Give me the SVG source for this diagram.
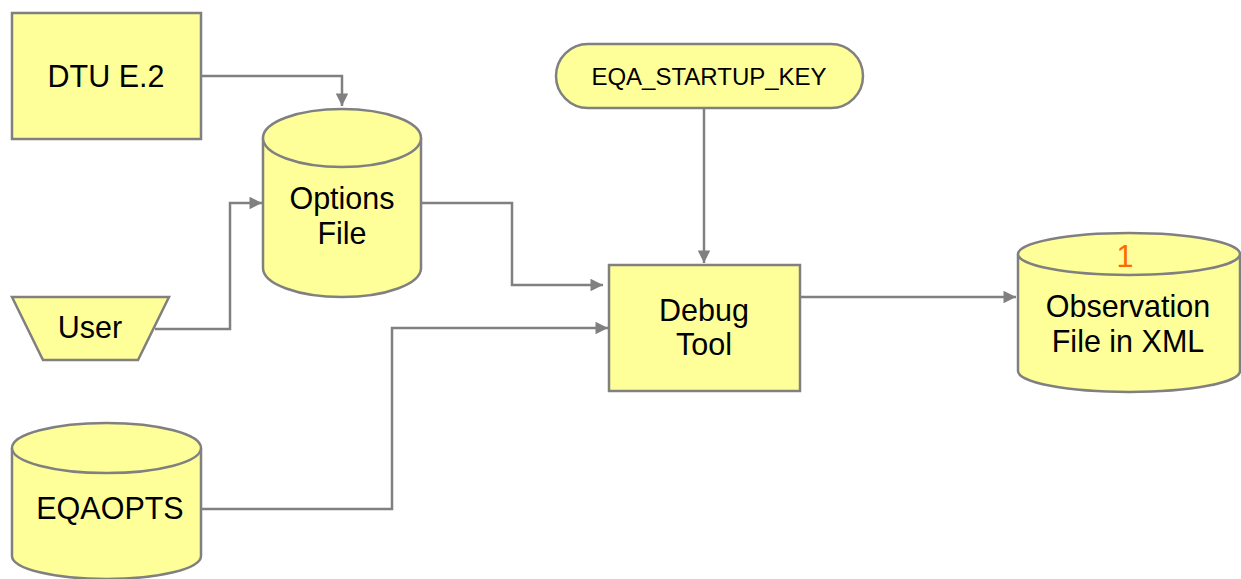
<svg xmlns="http://www.w3.org/2000/svg" width="1241" height="579" viewBox="0 0 1241 579">
<style>
.shape{fill:#ffff99;stroke:#808080;stroke-width:2.5}
.lbl{font-family:"Liberation Sans",Arial,sans-serif;font-size:30.5px;fill:#000;text-anchor:middle}
.small{font-size:24px}
.conn{fill:none;stroke:#808080;stroke-width:2.5}
</style>
<defs>
<marker id="arr" viewBox="0 0 10 10" refX="10" refY="5" markerWidth="5.5" markerHeight="5" orient="auto" markerUnits="strokeWidth">
<path d="M0,0 L10,5 L0,10 z" fill="#808080"/>
</marker>
</defs>
<rect width="1241" height="579" fill="#fff"/>
<g id="connectors">
<path class="conn" d="M201,76 H342 V106" marker-end="url(#arr)"/>
<path class="conn" d="M155,329 H230 V203 H262" marker-end="url(#arr)"/>
<path class="conn" d="M421,203 H512 V285 H603" marker-end="url(#arr)"/>
<path class="conn" d="M201,509 H392 V328 H608" marker-end="url(#arr)"/>
<path class="conn" d="M704,108 V263" marker-end="url(#arr)"/>
<path class="conn" d="M800,297 H1016" marker-end="url(#arr)"/>
</g>
<g id="dtu">
<rect class="shape" x="12" y="13" width="189" height="126"/>
<text class="lbl" x="106" y="87">DTU E.2</text>
</g>
<g id="options">
<path class="shape" d="M263,138 A79,29 0 0 1 421,138 V268 A79,29 0 0 1 263,268 Z"/>
<path class="shape" d="M263,138 A79,29 0 0 0 421,138" fill="none"/>
<text class="lbl" x="342" y="209">Options</text>
<text class="lbl" x="342" y="244">File</text>
</g>
<g id="user">
<polygon class="shape" points="12,297 169,297 138,360 43,360"/>
<text class="lbl" x="90" y="338">User</text>
</g>
<g id="eqaopts">
<path class="shape" d="M12,448 A94.5,25 0 0 1 201,448 V556 A94.5,23 0 0 1 12,556 Z"/>
<path class="shape" d="M12,448 A94.5,25 0 0 0 201,448" fill="none"/>
<text class="lbl" x="110" y="519">EQAOPTS</text>
</g>
<g id="startup">
<rect class="shape" x="556" y="44" width="307" height="64" rx="32" ry="32"/>
<text class="lbl small" x="709" y="85">EQA_STARTUP_KEY</text>
</g>
<g id="debug">
<rect class="shape" x="609" y="265" width="191" height="126"/>
<text class="lbl" x="704" y="321">Debug</text>
<text class="lbl" x="704" y="355">Tool</text>
</g>
<g id="observation">
<path class="shape" d="M1018,254 A111,21 0 0 1 1240,254 V371 A111,21 0 0 1 1018,371 Z"/>
<path class="shape" d="M1018,254 A111,21 0 0 0 1240,254" fill="none"/>
<text class="lbl" x="1125" y="267" style="fill:#ff6a00">1</text>
<text class="lbl" x="1128" y="317">Observation</text>
<text class="lbl" x="1128" y="352">File in XML</text>
</g>
</svg>
